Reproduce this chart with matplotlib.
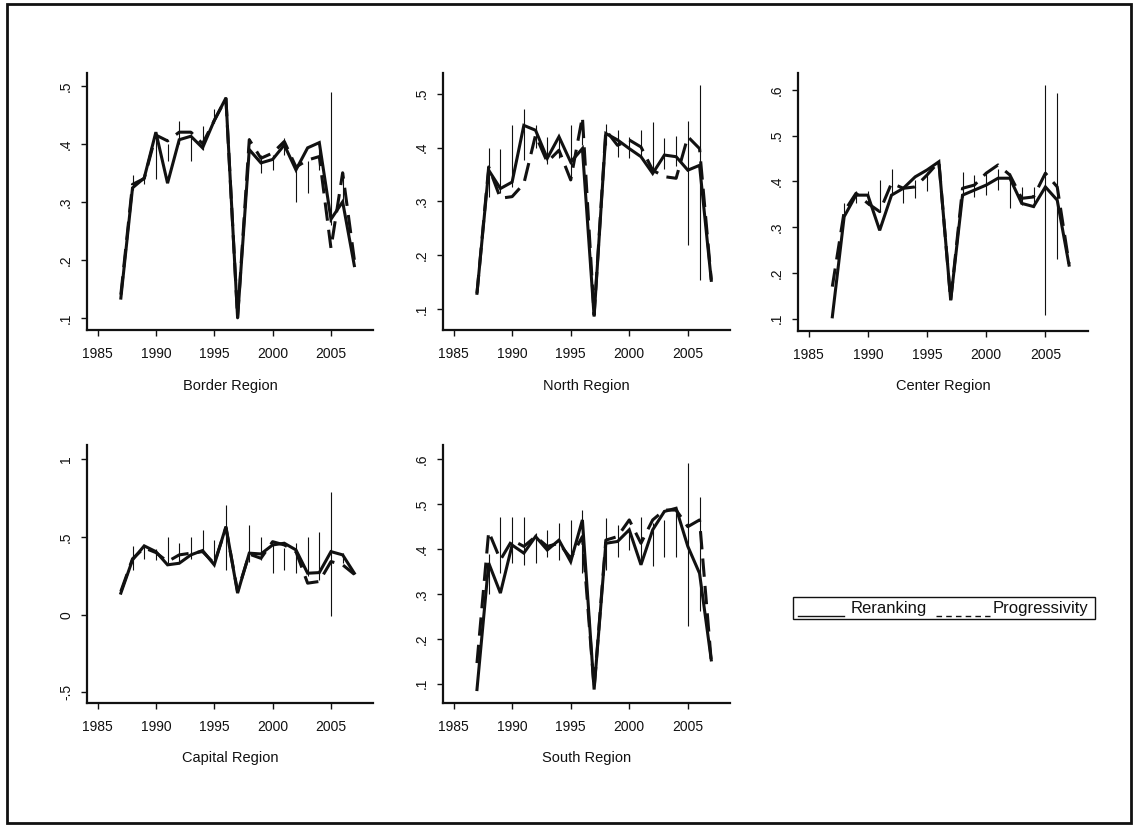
import numpy as np
import matplotlib
matplotlib.use("Agg")
import matplotlib.pyplot as plt
from matplotlib.lines import Line2D
from matplotlib.patches import Rectangle
from matplotlib.ticker import FuncFormatter

plt.rcParams['font.family'] = ['Liberation Sans', 'DejaVu Sans']

nan = np.nan
years = list(range(1987, 2008))
regions = ["Border Region", "North Region", "Center Region", "Capital Region", "South Region"]

border_rerank = [0.134, 0.324, 0.341, 0.420, 0.332, 0.407, 0.413, 0.393, 0.440, 0.479, 0.100,
                 0.390, 0.367, 0.373, 0.398, 0.355, 0.393, 0.402, 0.270, 0.300, 0.190]
border_prog = [0.140, 0.330, 0.340, 0.415, 0.405, 0.420, 0.420, 0.400, 0.440, 0.478, 0.100,
               0.407, 0.375, 0.384, 0.404, 0.360, 0.372, 0.378, 0.220, 0.350, 0.200]
border_lo = [nan, 0.320, 0.330, 0.340, 0.370, 0.400, 0.370, 0.390, 0.435, nan, nan,
             0.390, 0.350, 0.355, 0.380, 0.300, 0.315, 0.355, 0.260, 0.300, nan]
border_hi = [nan, 0.347, 0.345, 0.420, 0.400, 0.440, 0.415, 0.430, 0.460, nan, nan,
             0.410, 0.380, 0.380, 0.410, 0.360, 0.370, 0.390, 0.490, 0.350, nan]

north_rerank = [0.130, 0.358, 0.324, 0.336, 0.441, 0.432, 0.380, 0.420, 0.373, 0.398, 0.087,
                0.426, 0.414, 0.398, 0.383, 0.352, 0.386, 0.383, 0.358, 0.367, 0.154]
north_prog = [0.130, 0.364, 0.306, 0.309, 0.333, 0.423, 0.373, 0.395, 0.340, 0.457, 0.090,
              0.432, 0.404, 0.414, 0.401, 0.358, 0.346, 0.343, 0.420, 0.398, 0.155]
north_lo = [nan, 0.309, 0.315, 0.327, 0.377, 0.400, 0.370, 0.380, 0.340, 0.405, nan,
            0.405, 0.383, 0.380, 0.380, 0.352, 0.360, 0.365, 0.220, 0.155, nan]
north_hi = [nan, 0.400, 0.398, 0.441, 0.472, 0.441, 0.420, 0.420, 0.441, 0.444, nan,
            0.444, 0.432, 0.420, 0.432, 0.447, 0.418, 0.421, 0.450, 0.515, nan]

center_rerank = [0.104, 0.323, 0.370, 0.370, 0.293, 0.370, 0.385, 0.410, 0.425, 0.443, 0.140,
                 0.370, 0.381, 0.392, 0.407, 0.407, 0.352, 0.345, 0.388, 0.359, 0.217]
center_prog = [0.170, 0.334, 0.374, 0.352, 0.334, 0.396, 0.385, 0.388, 0.414, 0.443, 0.140,
               0.385, 0.392, 0.418, 0.436, 0.414, 0.363, 0.366, 0.418, 0.388, 0.220]
center_lo = [nan, 0.323, 0.352, 0.349, 0.334, 0.370, 0.352, 0.363, 0.378, nan, nan,
             0.366, 0.366, 0.370, 0.381, 0.341, 0.349, 0.345, 0.107, 0.231, nan]
center_hi = [nan, 0.352, 0.378, 0.378, 0.403, 0.428, 0.388, 0.403, 0.421, nan, nan,
             0.420, 0.414, 0.421, 0.428, 0.418, 0.388, 0.388, 0.611, 0.593, nan]

capital_rerank = [0.139, 0.353, 0.443, 0.406, 0.321, 0.331, 0.385, 0.413, 0.321, 0.567, 0.139,
                  0.396, 0.391, 0.449, 0.460, 0.417, 0.267, 0.271, 0.406, 0.385, 0.267]
capital_prog = [0.150, 0.360, 0.430, 0.400, 0.342, 0.385, 0.396, 0.406, 0.330, 0.560, 0.150,
                0.390, 0.363, 0.470, 0.449, 0.406, 0.203, 0.214, 0.342, 0.321, 0.260]
capital_lo = [nan, 0.290, 0.360, 0.350, 0.330, 0.330, 0.360, 0.396, 0.330, 0.289, nan,
              0.342, 0.350, 0.267, 0.289, 0.267, 0.246, 0.224, -0.011, 0.330, nan]
capital_hi = [nan, 0.440, 0.450, 0.420, 0.500, 0.460, 0.500, 0.546, 0.480, 0.706, nan,
              0.578, 0.500, 0.449, 0.428, 0.460, 0.500, 0.535, 0.792, 0.400, nan]

south_rerank = [0.087, 0.369, 0.302, 0.409, 0.391, 0.428, 0.398, 0.420, 0.372, 0.465, 0.087,
                0.413, 0.417, 0.443, 0.365, 0.443, 0.484, 0.491, 0.406, 0.346, 0.153]
south_prog = [0.146, 0.439, 0.376, 0.420, 0.406, 0.428, 0.406, 0.413, 0.380, 0.428, 0.090,
              0.420, 0.428, 0.465, 0.413, 0.465, 0.487, 0.487, 0.450, 0.465, 0.150]
south_lo = [nan, 0.300, 0.346, 0.369, 0.365, 0.369, 0.383, 0.376, 0.372, 0.346, nan,
            0.354, 0.383, 0.398, 0.372, 0.362, 0.383, 0.383, 0.228, 0.261, nan]
south_hi = [nan, 0.390, 0.472, 0.472, 0.472, 0.436, 0.443, 0.458, 0.465, 0.487, nan,
            0.470, 0.454, 0.443, 0.472, 0.458, 0.465, 0.480, 0.591, 0.517, nan]

xticks = [1985, 1990, 1995, 2000, 2005]
yticks_list = [[0.1, 0.2, 0.3, 0.4, 0.5],
               [0.1, 0.2, 0.3, 0.4, 0.5],
               [0.1, 0.2, 0.3, 0.4, 0.5, 0.6],
               [-0.5, 0, 0.5, 1],
               [0.1, 0.2, 0.3, 0.4, 0.5, 0.6]]
ylims = [(0.079, 0.522), (0.062, 0.538), (0.073, 0.637), (-0.568, 1.092), (0.057, 0.632)]

series = [
    (border_rerank, border_prog, border_lo, border_hi),
    (north_rerank, north_prog, north_lo, north_hi),
    (center_rerank, center_prog, center_lo, center_hi),
    (capital_rerank, capital_prog, capital_lo, capital_hi),
    (south_rerank, south_prog, south_lo, south_hi),
]

W, H = 1136, 826
fig = plt.figure(figsize=(W / 100, H / 100), dpi=100)
fig.patch.set_facecolor('white')

# axes boxes in pixels: left, top, right, bottom
boxes = [(87, 73, 373, 330), (443, 73, 730, 330), (798, 73, 1088, 331),
         (87, 445, 373, 703), (443, 445, 730, 703)]


def fmt(v, pos):
    if abs(v) < 1e-9:
        return "0"
    if abs(v - round(v)) < 1e-9:
        return "%d" % round(v)
    s = ("%.1f" % v)
    s = s.replace("0.", ".")
    return s


ink = '#111111'
for i, (name, box, (rr, pp, lo, hi)) in enumerate(zip(regions, boxes, series)):
    l, t, r, b = box
    ax = fig.add_axes([l / W, 1 - b / H, (r - l) / W, (b - t) / H])
    ax.vlines(years, lo, hi, color=ink, lw=0.8)
    ax.plot(years, rr, color=ink, lw=2.2, solid_joinstyle='miter')
    ax.plot(years, pp, color=ink, lw=2.2, dashes=(6, 3))
    ax.set_xlim(1984.1, 2008.6)
    ax.set_ylim(*ylims[i])
    ax.set_xticks(xticks)
    ax.set_yticks(yticks_list[i])
    ax.yaxis.set_major_formatter(FuncFormatter(fmt))
    for s in ['top', 'right']:
        ax.spines[s].set_visible(False)
    for s in ['left', 'bottom']:
        ax.spines[s].set_linewidth(1.6)
        ax.spines[s].set_color(ink)
    ax.tick_params(axis='both', direction='out', length=4, width=1.0, colors=ink,
                   labelsize=10)
    ax.tick_params(axis='x', pad=8)
    ax.tick_params(axis='y', pad=6)
    for lab in ax.get_yticklabels():
        lab.set_rotation(90)
        lab.set_va('center')
    ax.set_facecolor('none')
    fig.text(((l + r) / 2) / W, 1 - 386 / H if i < 3 else 1 - 758 / H, name,
             ha='center', va='center', fontsize=10.5, color=ink)

# legend box
lx0, ly0, lx1, ly1 = 793, 597, 1095, 619
fig.patches.append(Rectangle((lx0 / W, 1 - ly1 / H), (lx1 - lx0) / W, (ly1 - ly0) / H,
                             transform=fig.transFigure, fill=False, ec=ink, lw=1.0))
base = 1 - 616 / H
fig.lines.append(Line2D([798 / W, 844 / W], [base, base], transform=fig.transFigure,
                        color=ink, lw=1.0))
fig.text(851 / W, 1 - 608 / H, "Reranking", fontsize=12, va='center', ha='left', color=ink)
fig.lines.append(Line2D([936 / W, 990 / W], [base, base], transform=fig.transFigure,
                        color=ink, lw=1.0, dashes=(4, 3)))
fig.text(993 / W, 1 - 608 / H, "Progressivity", fontsize=12, va='center', ha='left', color=ink)

# outer frame
fig.patches.append(Rectangle((7 / W, 1 - 823 / H), (1131 - 7) / W, (823 - 4) / H,
                             transform=fig.transFigure, fill=False, ec=ink, lw=2.0))

fig.savefig("out.png", dpi=100)
